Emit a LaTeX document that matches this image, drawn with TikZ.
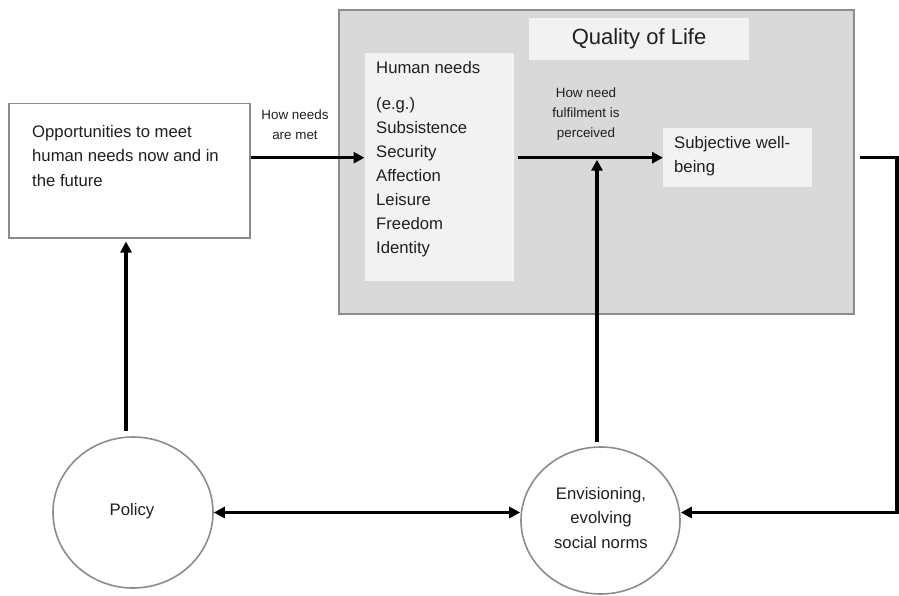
\documentclass[tikz,border=0pt]{standalone}
\usepackage{fontspec}
\setmainfont{Liberation Sans}
\usetikzlibrary{shapes.geometric,arrows.meta}
\definecolor{qolgray}{HTML}{D9D9D9}
\definecolor{boxlight}{HTML}{F2F2F2}
\definecolor{edgegray}{HTML}{8C8C8C}
\definecolor{inkc}{HTML}{1F1F1F}
\begin{document}
\begin{tikzpicture}[x=1pt,y=-1pt,
  body/.style={font=\fontsize{16.7pt}{24.5pt}\selectfont, text=inkc, inner sep=0pt, align=left},
  listbody/.style={font=\fontsize{16.7pt}{24pt}\selectfont, text=inkc, inner sep=0pt, align=left},
  smalllabel/.style={font=\fontsize{13.4pt}{20pt}\selectfont, text=inkc, inner sep=0pt, align=center},
  panel/.style={fill=boxlight, inner sep=0pt, anchor=north west},
  roundnode/.style={ellipse, draw=edgegray, line width=1.6pt, fill=white, inner sep=0pt},
  flow/.style={line width=3.3pt, draw=black, -{Triangle[length=11pt,width=11pt]}},
  twoway/.style={line width=3.3pt, draw=black, {Triangle[length=11pt,width=11pt]}-{Triangle[length=11pt,width=11pt]}}
]
\useasboundingbox (0,0) rectangle (899,596);

% Quality of life frame
\node[draw=edgegray, line width=2pt, fill=qolgray, minimum width=515pt, minimum height=304pt, anchor=north west, inner sep=0pt] (qol) at (338,9) {};
\node[fill=boxlight, minimum width=220pt, minimum height=42pt, inner sep=0pt, text=inkc, font=\fontsize{22pt}{26pt}\selectfont] (qoltitle) at (639,39) {Quality of Life};
\node[panel, minimum width=149.5pt, minimum height=228pt] (hn) at (364.5,53) {};
\node[panel, minimum width=149pt, minimum height=59pt] (subj) at (663,128) {};

\node[body, anchor=base west] (hntext) at (376,73.5) {Human needs};
\node[listbody, anchor=base west] (hnlist) at (376,253) {(e.g.)\\Subsistence\\Security\\Affection\\Leisure\\Freedom\\Identity};
\node[body, anchor=base west] (subjtext) at (674,173) {Subjective well-\\being};
\node[smalllabel, anchor=base] (perclabel) at (586,138) {How need\\fulfilment is\\perceived};

% Opportunities box
\node[draw=edgegray, line width=1.5pt, fill=white, minimum width=241pt, minimum height=134pt, anchor=north west, inner sep=0pt] (opp) at (8,103) {};
\node[body, anchor=base west] (opptext) at (32,186) {Opportunities to meet\\human needs now and in\\the future};
\node[smalllabel, anchor=base] (metlabel) at (295,140) {How needs\\are met};

% Circles
\node[roundnode, minimum width=160pt, minimum height=151pt] (pol) at (133,512.5) {};
\node[body, anchor=base] (poltext) at (132,515) {Policy};
\node[roundnode, minimum width=159pt, minimum height=147pt] (env) at (600.5,520.5) {};
\node[body, anchor=base, align=center] (envtext) at (601,548) {Envisioning,\\evolving\\social norms};

% helper coordinates
\coordinate (vx) at (597,0);
\coordinate (px) at (126,0);
\coordinate (rc) at (897,0);

% connectors
\draw[flow] (opp.east |- subj.west) -- (hn.west |- subj.west);
\draw[flow, shorten <=4pt] (hn.east |- subj.west) -- (subj.west);
\draw[flow, shorten <=4pt, shorten >=2pt] (vx |- env.north) -- (vx |- subj.west);
\draw[flow, shorten <=5pt, line join=miter] (qol.east |- subj.west) -- (rc |- subj.west) -- (rc |- pol.east) -- (env.east |- pol.east);
\draw[twoway] (pol.east) -- (env.west |- pol.east);
\draw[flow, shorten <=5pt, shorten >=3pt] (px |- pol.north) -- (px |- opp.south);
\end{tikzpicture}
\end{document}
